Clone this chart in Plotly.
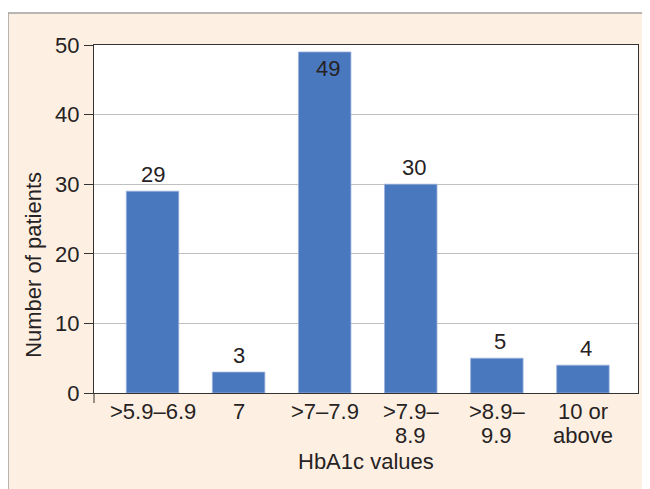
import plotly.graph_objects as go

categories = [">5.9–6.9", "7", ">7–7.9", ">7.9–\n8.9", ">8.9–\n9.9", "10 or\nabove"]
patients = [29, 3, 49, 30, 5, 4]
y_ticks = [0, 10, 20, 30, 40, 50]

FONT = "Liberation Sans, Arial, sans-serif"
FS = 22
TXT = "#262223"
BAR = "#4a78bf"

# plot area in page pixels (page has an 8px body margin)
PX_L, PX_R, PX_T, PX_B = 94, 638, 44.5, 393.5
PW, PH = PX_R - PX_L, PX_B - PX_T


def py(p):
    return (PX_B - p) / PH


def px(p):
    return (p - PX_L) / PW


fig = go.Figure()
fig.add_trace(go.Bar(
    x=list(range(len(categories))), y=patients,
    marker=dict(color=BAR, line=dict(color="#9db3dc", width=0.8)),
    width=0.61, hoverinfo="skip", showlegend=False,
))

annotations = []
for i, v in enumerate(patients):
    inside = v > 45
    annotations.append(dict(
        x=i, y=v, xref="x", yref="y", text=str(v), showarrow=False,
        font=dict(family=FONT, size=FS, color=TXT),
        yanchor="top" if inside else "bottom",
        yshift=-2 if inside else 2,
        xshift=3 if i >= 2 else 0,
    ))

# category labels, one annotation per line
for i, lab in enumerate(categories):
    for k, line in enumerate(lab.split("\n")):
        annotations.append(dict(
            x=i, y=py(412 + 24 * k), xref="x", yref="paper", text=line,
            showarrow=False, xanchor="center", yanchor="middle",
            font=dict(family=FONT, size=FS, color=TXT),
        ))

annotations.append(dict(
    x=px(34), y=py(265), xref="paper", yref="paper", text="Number of patients",
    textangle=-90, showarrow=False, xanchor="center", yanchor="middle",
    font=dict(family=FONT, size=FS, color=TXT),
))
annotations.append(dict(
    x=0.5, y=py(462), xref="paper", yref="paper", text="HbA1c values",
    showarrow=False, xanchor="center", yanchor="middle",
    font=dict(family=FONT, size=FS, color=TXT),
))

shapes = [
    dict(type="rect", xref="paper", yref="paper", x0=px(8), x1=px(665), y0=py(500), y1=py(12.5),
         fillcolor="#fdf0e2", line=dict(color="#a0a0a0", width=1.5), layer="below"),
    dict(type="rect", xref="paper", yref="paper", x0=0, x1=1, y0=0, y1=1,
         fillcolor="white", line=dict(width=0), layer="below"),
    dict(type="line", xref="paper", yref="paper", x0=0, x1=0, y0=0, y1=py(403.5),
         line=dict(color="#333333", width=1)),
]

fig.update_layout(
    width=650, height=489,
    margin=dict(l=PX_L - 8, r=650 + 8 - PX_R, t=PX_T - 8, b=489 + 8 - PX_B, pad=0),
    paper_bgcolor="white", plot_bgcolor="white",
    font=dict(family=FONT, size=FS, color=TXT),
    annotations=annotations, shapes=shapes,
    xaxis=dict(
        range=[-0.68, 5.64], tickmode="array",
        tickvals=list(range(len(categories))), showticklabels=False,
        ticks="", showgrid=False, zeroline=False,
        showline=True, mirror=True, linecolor="#333333", linewidth=1,
        fixedrange=True,
    ),
    yaxis=dict(
        range=[0, 50], tickmode="array", tickvals=y_ticks,
        ticks="outside", ticklen=9, tickcolor="#333333", tickwidth=1,
        showgrid=True, gridcolor="#c0c0c0", gridwidth=1, zeroline=False,
        showline=True, mirror=True, linecolor="#333333", linewidth=1,
        tickfont=dict(family=FONT, size=FS, color=TXT), fixedrange=True,
    ),
)

fig.write_html("out.html")
